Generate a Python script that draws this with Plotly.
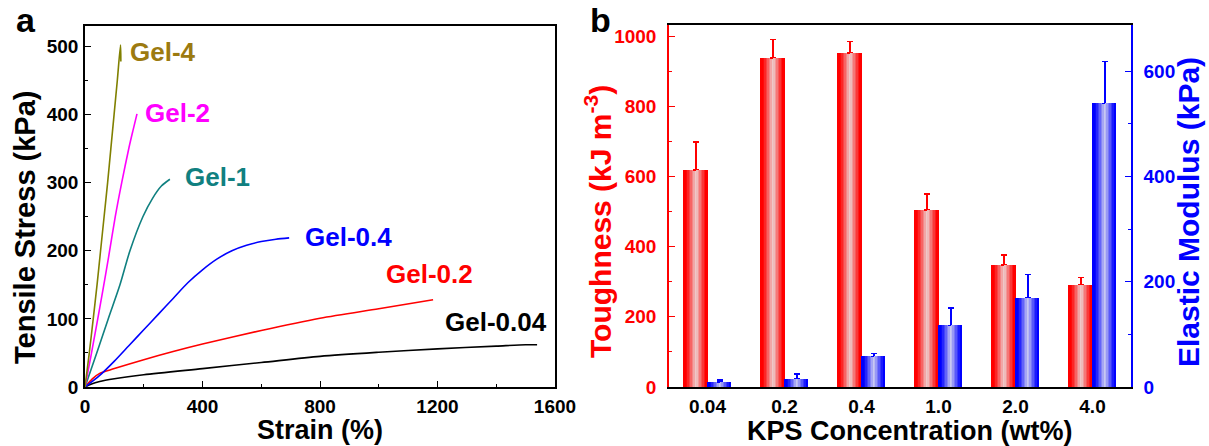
import plotly.graph_objects as go

# ---------------- Panel a data (tensile curves) ----------------
strain_gel004 = [0, 20, 50, 100, 200, 400, 600, 800, 1000, 1200, 1400, 1500, 1539]
stress_gel004 = [0, 4, 8, 12, 18, 27, 36, 45, 51, 56, 60, 62, 62]

strain_gel02 = [0, 25, 50, 100, 200, 300, 400, 600, 800, 1000, 1185]
stress_gel02 = [0, 12, 20, 27, 40, 52, 63, 83, 101, 115, 128]

strain_gel04 = [0, 50, 100, 150, 200, 250, 300, 350, 400, 450, 500, 550, 600, 650, 695]
stress_gel04 = [0, 17, 38, 61, 84, 107, 130, 153, 172, 188, 200, 208, 213.5, 217, 219]

strain_gel1 = [0, 40, 79, 119, 153, 197, 230, 260, 289]
stress_gel1 = [0, 50, 100, 150, 200, 250, 277, 295, 305]

strain_gel2 = [0, 20, 40, 60, 80, 103, 125, 150, 163, 177]
stress_gel2 = [0, 45, 92, 140, 190, 250, 300, 352, 376, 401]

strain_gel4 = [0, 14, 28, 41, 53, 65, 77, 88, 99, 110, 121, 122]
stress_gel4 = [0, 48, 100, 150, 200, 250, 300, 350, 400, 450, 502, 478]

curve_names = ["Gel-0.04", "Gel-0.2", "Gel-0.4", "Gel-1", "Gel-2", "Gel-4"]
curve_colors = ["#000000", "#ff0000", "#0000ff", "#108080", "#ff00ff", "#808000"]
label_colors = ["#000000", "#ff0000", "#0000ff", "#108080", "#ff00ff", "#9c7a10"]
label_x = [1218, 1017, 741, 333, 197, 146]
label_y = [95, 166, 220, 308, 402, 492]

# ---------------- Panel b data (bars) ----------------
kps_categories = ["0.04", "0.2", "0.4", "1.0", "2.0", "4.0"]
toughness = [619, 938, 952, 505, 348, 292]
toughness_err = [80, 53, 33, 45, 28, 20]
modulus = [10, 16, 58, 117, 170, 539]
modulus_err = [3, 9, 6, 33, 44, 80]

FONT = "Liberation Sans"
fig = go.Figure()

curves = [
    (strain_gel004, stress_gel004),
    (strain_gel02, stress_gel02),
    (strain_gel04, stress_gel04),
    (strain_gel1, stress_gel1),
    (strain_gel2, stress_gel2),
    (strain_gel4, stress_gel4),
]
for (sx, sy), name, col in zip(curves, curve_names, curve_colors):
    fig.add_trace(go.Scatter(x=sx, y=sy, mode="lines", name=name,
                             line=dict(color=col, width=1.6, shape="spline", smoothing=0.8),
                             xaxis="x", yaxis="y", showlegend=False))

for name, col, lx, ly in zip(curve_names, label_colors, label_x, label_y):
    fig.add_annotation(x=lx, y=ly, xref="x", yref="y", text=name, showarrow=False,
                       xanchor="left", yanchor="middle",
                       font=dict(family=FONT, size=26, color=col, weight="bold"))


def blend(base, light, t):
    w = max(0.0, 1 - abs(t - 0.55) / 0.42)
    w = (w ** 1.1) * 0.93
    c = [round(b * (1 - w) + l * w) for b, l in zip(base, light)]
    return f"rgb({c[0]},{c[1]},{c[2]})"


N = 16
red_start, red_w = -0.315, 0.315
blue_start, blue_w = 0.0, 0.30
for i in range(N):
    t = (i + 0.5) / N
    sw = red_w / N
    kw = {}
    if i == N // 2:
        kw["error_y"] = dict(type="data", symmetric=False, array=toughness_err,
                             arrayminus=[0] * len(toughness_err),
                             color="#ff0000", thickness=1.6, width=3)
    fig.add_trace(go.Bar(x=kps_categories, y=toughness, xaxis="x2", yaxis="y2",
                         offset=red_start + i * sw, width=sw * 1.05,
                         marker=dict(color=blend((255, 0, 0), (236, 226, 226), t), line=dict(width=0)),
                         showlegend=False, **kw))
for i in range(N):
    t = (i + 0.5) / N
    sw = blue_w / N
    kw = {}
    if i == N // 2:
        kw["error_y"] = dict(type="data", symmetric=False, array=modulus_err,
                             arrayminus=[0] * len(modulus_err),
                             color="#0000ff", thickness=1.6, width=3)
    fig.add_trace(go.Bar(x=kps_categories, y=modulus, xaxis="x2", yaxis="y3",
                         offset=blue_start + i * sw, width=sw * 1.05,
                         marker=dict(color=blend((0, 0, 255), (226, 226, 240), t), line=dict(width=0)),
                         showlegend=False, **kw))

TS = 19
tickfont = dict(family=FONT, size=TS, color="black", weight="bold")
W, H = 1209, 446

fig.update_layout(
    template="none",
    width=W, height=H, margin=dict(l=0, r=0, t=0, b=0, autoexpand=False),
    paper_bgcolor="white", plot_bgcolor="white",
    barmode="overlay", bargap=0,
    font=dict(family=FONT),
    xaxis=dict(domain=[85 / W, 555 / W], range=[0, 1600], dtick=400, tick0=0, automargin=False,
               showline=True, linecolor="black", linewidth=1.5, mirror=True,
               ticks="inside", ticklen=6, tickwidth=1.2, tickcolor="black",
               minor=dict(ticks="inside", dtick=200, ticklen=3, tickcolor="black", showgrid=False),
               showgrid=False, zeroline=False, tickfont=tickfont, ticklabelstandoff=1),
    yaxis=dict(domain=[1 - 387 / H, 1 - 26 / H], range=[0, 530], dtick=100, tick0=0, automargin=False,
               showline=True, linecolor="black", linewidth=1.5, mirror=True,
               ticks="inside", ticklen=6, tickwidth=1.2, tickcolor="black",
               minor=dict(ticks="inside", dtick=50, ticklen=3, tickcolor="black", showgrid=False),
               showgrid=False, zeroline=False, tickfont=tickfont, ticklabelstandoff=1),
    xaxis2=dict(domain=[669 / W, 1131 / W], type="category", range=[-0.5, 5.5], automargin=False,
                anchor="y2", showline=True, linecolor="black", linewidth=1.5, mirror=True,
                ticks="", showgrid=False, zeroline=False, tickfont=tickfont, ticklabelstandoff=1),
    yaxis2=dict(domain=[1 - 387 / H, 1 - 25 / H], anchor="x2", range=[0, 1032], dtick=200,
                automargin=False,
                showline=True, linecolor="#ff0000", linewidth=1.5, mirror=False,
                ticks="inside", ticklen=6, tickwidth=1.2, tickcolor="#ff0000",
                minor=dict(ticks="inside", dtick=100, ticklen=3, tickcolor="#ff0000", showgrid=False),
                showgrid=False, zeroline=False, ticklabelstandoff=7,
                tickfont=dict(family=FONT, size=TS, color="#ff0000", weight="bold")),
    yaxis3=dict(overlaying="y2", anchor="x2", side="right", range=[0, 688], dtick=200,
                automargin=False,
                showline=True, linecolor="#0000ff", linewidth=1.5,
                ticks="inside", ticklen=6, tickwidth=1.2, tickcolor="#0000ff",
                minor=dict(ticks="inside", dtick=100, ticklen=3, tickcolor="#0000ff", showgrid=False),
                showgrid=False, zeroline=False, ticklabelstandoff=7,
                tickfont=dict(family=FONT, size=TS, color="#0000ff", weight="bold")),
)


def label(x, y, text, size, color="black", angle=0):
    fig.add_annotation(x=x / W, y=1 - y / H, xref="paper", yref="paper", text=text,
                       showarrow=False, textangle=angle, xanchor="center", yanchor="middle",
                       font=dict(family=FONT, size=size, color=color, weight="bold"))


label(320, 430, "Strain (%)", 27)
label(25, 228, "Tensile Stress (kPa)", 29, angle=-90)
label(910, 431, "KPS Concentration (wt%)", 27)
label(598, 222, "Toughness (kJ m<sup>-3</sup>)", 30, color="#ff0000", angle=-90)
label(1188, 212, "Elastic Modulus (kPa)", 30, color="#0000ff", angle=-90)
label(26, 20, "a", 34)
label(600, 20, "b", 34)

fig.write_html("out.html")
